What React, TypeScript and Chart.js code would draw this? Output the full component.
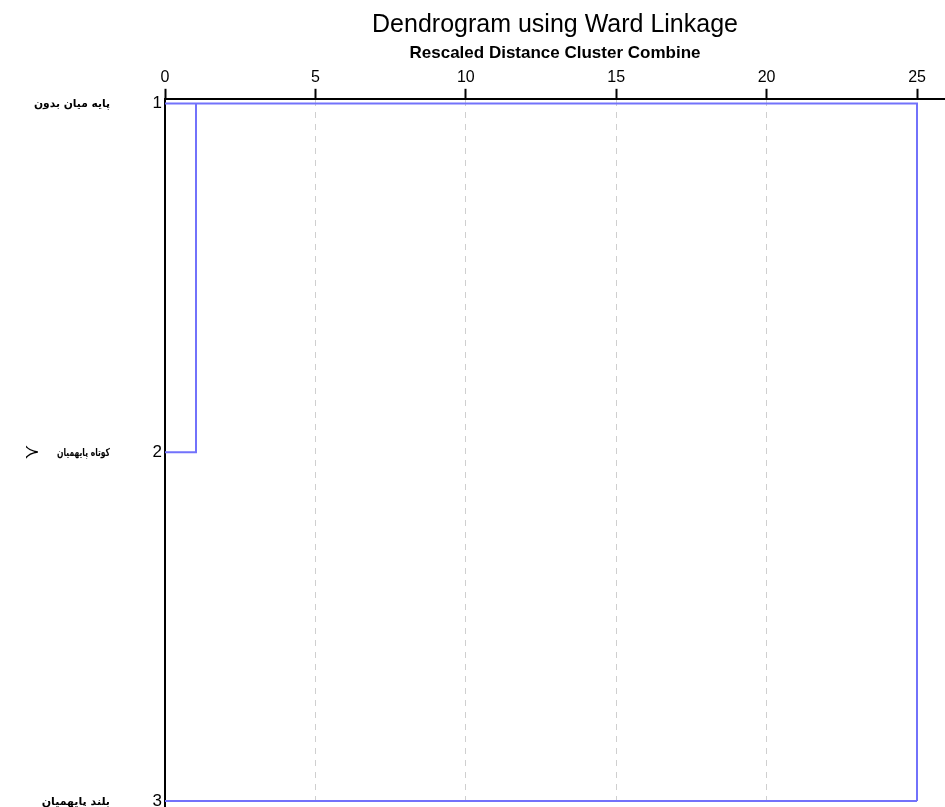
import React, { useEffect, useRef } from "react";
import { Chart, registerables } from "chart.js";

Chart.register(...registerables);

const titleText = "Dendrogram using Ward Linkage";
const subtitleText = "Rescaled Distance Cluster Combine";
const xTicks = [0, 5, 10, 15, 20, 25];
const rowNumbers = [1, 2, 3];
// written in visual (left-to-right) word order, as the canvas lays them out
const rowLabels = [
  "پایه میان بدون",
  "کوتاه پایهمیان",
  "بلند پایهمیان",
];
const rowMarkers = ["", "≻", ""];
// merge distances (rescaled): rows 1+2, then (1,2)+3
const mergeDistances = [1.03, 25];

const BLUE = "#7272fb";
const LABEL_MAX_W = [76, 53, 74];

const rowLabelPlugin = {
  id: "rowLabels",
  afterDraw(chart: any) {
    const { ctx } = chart;
    const y = chart.scales.y;
    ctx.save();
    ctx.fillStyle = "#000";
    ctx.textBaseline = "middle";
    rowNumbers.forEach((r, i) => {
      const py = y.getPixelForValue(r) + 1;
      ctx.font = "bold 11px 'DejaVu Sans'";
      ctx.textAlign = "right";
      ctx.fillText(rowLabels[i], 110, py, LABEL_MAX_W[i]);
      if (rowMarkers[i]) {
        ctx.font = "19px 'DejaVu Sans'";
        ctx.textAlign = "center";
        ctx.fillText(rowMarkers[i], 32, py);
      }
    });
    ctx.restore();
  },
};

export default function App() {
  const ref = useRef<HTMLCanvasElement | null>(null);

  useEffect(() => {
    document.body.style.margin = "0";
    const canvas = ref.current;
    if (!canvas) return;

    const [m1, m2] = mergeDistances;
    const datasets = [
      {
        data: [
          { x: 0, y: rowNumbers[1] },
          { x: m1, y: rowNumbers[1] },
          { x: m1, y: rowNumbers[0] },
        ],
      },
      {
        data: [
          { x: 0, y: rowNumbers[0] },
          { x: m2, y: rowNumbers[0] },
          { x: m2, y: rowNumbers[2] },
        ],
      },
      {
        data: [
          { x: 0, y: rowNumbers[2] },
          { x: m2, y: rowNumbers[2] },
        ],
      },
    ].map((d) => ({
      ...d,
      showLine: true,
      borderColor: BLUE,
      borderWidth: 2,
      pointRadius: 0,
      fill: false,
      tension: 0,
    }));

    const chart = new Chart(canvas, {
      type: "scatter",
      data: { datasets },
      plugins: [rowLabelPlugin],
      options: {
        animation: false,
        responsive: false,
        devicePixelRatio: 1,
        layout: { padding: 0 },
        plugins: {
          legend: { display: false },
          tooltip: { enabled: false },
          title: {
            display: true,
            text: titleText,
            fullSize: false,
            color: "#000",
            font: { family: "'Liberation Sans', Arial", size: 25, weight: "normal", lineHeight: 1.2 },
            padding: { top: 10, bottom: 0 },
          },
          subtitle: {
            display: true,
            text: subtitleText,
            fullSize: false,
            color: "#000",
            font: { family: "'Liberation Sans', Arial", size: 17, weight: "bold", lineHeight: 1.2 },
            padding: { top: 3, bottom: 0 },
          },
        },
        scales: {
          x: {
            type: "linear",
            position: "top",
            min: 0,
            max: 25.93,
            afterBuildTicks: (s: any) => {
              s.ticks = xTicks.map((v) => ({ value: v }));
            },
            afterFit: (s: any) => {
              s.height = 35.4;
              s.paddingLeft = 0;
              s.paddingRight = 0;
            },
            ticks: {
              color: "#000",
              padding: 2,
              font: { family: "'Liberation Sans', Arial", size: 16 },
            },
            grid: {
              color: (c: any) =>
                c.tick && (c.tick.value === 0 || c.tick.value === 25) ? "rgba(0,0,0,0)" : "#cfcfcf",
              lineWidth: 1,
              tickColor: "#000",
              tickWidth: 2,
              tickLength: 10,
            },
            border: { display: true, color: "#000", width: 2, dash: [6, 6] },
          },
          y: {
            type: "linear",
            position: "left",
            reverse: true,
            min: 0.9865,
            max: 3.0172,
            afterBuildTicks: (s: any) => {
              s.ticks = rowNumbers.map((v) => ({ value: v }));
            },
            afterFit: (s: any) => {
              s.width = 165;
              s.paddingTop = 0;
              s.paddingBottom = 0;
            },
            ticks: {
              color: "#000",
              padding: 3,
              font: { family: "'Liberation Sans', Arial", size: 17 },
            },
            grid: { drawOnChartArea: false, drawTicks: false },
            border: { display: true, color: "#000", width: 2 },
          },
        },
      },
    } as any);

    return () => chart.destroy();
  }, []);

  return <canvas ref={ref} width={945} height={807} style={{ display: "block" }} />;
}
